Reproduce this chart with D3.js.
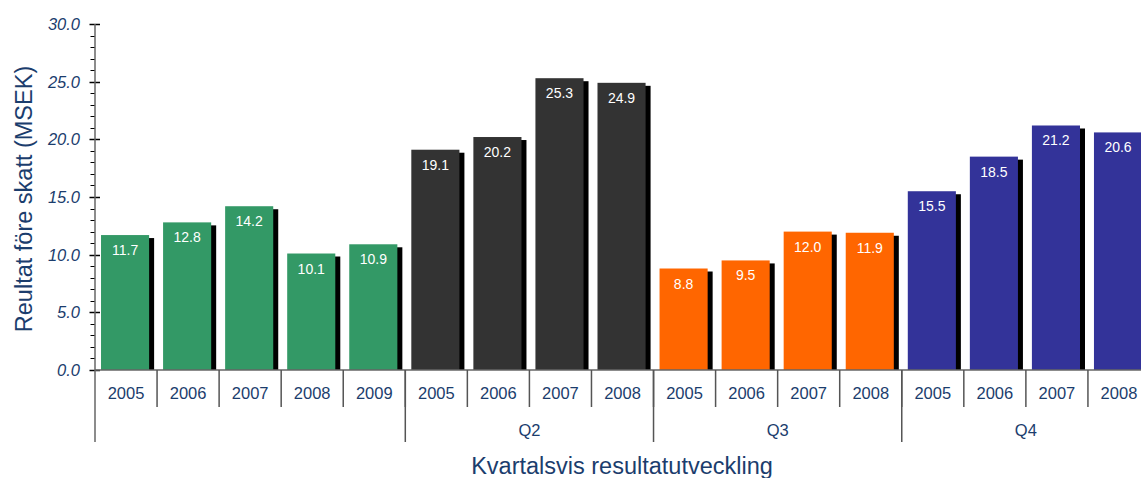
<!DOCTYPE html>
<html>
<head>
<meta charset="utf-8">
<script src="https://cdn.jsdelivr.net/npm/d3@7"></script>
<style>
  body { margin: 0; background: #fff; }
  svg { display: block; font-family: "Liberation Sans", Arial, sans-serif; }
</style>
</head>
<body>
<div id="chart"></div>
<script>
// quarter groups and their years
const quarters = ["", "Q2", "Q3", "Q4"];
const years = [
  ["2005", "2006", "2007", "2008", "2009"],
  ["2005", "2006", "2007", "2008"],
  ["2005", "2006", "2007", "2008"],
  ["2005", "2006", "2007", "2008"]
];
const values = [
  [11.7, 12.8, 14.2, 10.1, 10.9],
  [19.1, 20.2, 25.3, 24.9],
  [8.8, 9.5, 12.0, 11.9],
  [15.5, 18.5, 21.2, 20.6]
];
const colors = ["#339966", "#333333", "#FF6600", "#333399"];
const yTicks = [0, 5, 10, 15, 20, 25, 30];

const width = 1141, height = 478;
const textColor = "#1b3d6d";

// flatten into one row per bar
const bars = [];
values.forEach((vals, g) => {
  vals.forEach((v, j) => bars.push({ group: g, year: years[g][j], value: v }));
});

const svg = d3.select("#chart").append("svg")
  .attr("width", width).attr("height", height);

const x = d3.scaleBand()
  .domain(d3.range(bars.length))
  .range([95, 1150])
  .padding(0);

const y = d3.scaleLinear().domain([0, 30]).range([370, 24]);

const defs = svg.append("defs");
defs.append("clipPath").attr("id", "plot-clip")
  .append("rect").attr("x", 95).attr("y", 0).attr("width", 1100).attr("height", y(0));

// Bars with drop shadow
const barG = svg.append("g").attr("clip-path", "url(#plot-clip)");
const bw = x.bandwidth();
const barW = bw * 0.775;
const off = bw * 0.097;

barG.selectAll("rect.shadow").data(bars).join("rect")
  .attr("class", "shadow")
  .attr("x", (d, i) => x(i) + off + 5)
  .attr("y", d => y(d.value) + 3)
  .attr("width", barW)
  .attr("height", d => y(0) - y(d.value))
  .attr("fill", "#000");

barG.selectAll("rect.bar").data(bars).join("rect")
  .attr("class", "bar")
  .attr("x", (d, i) => x(i) + off)
  .attr("y", d => y(d.value))
  .attr("width", barW)
  .attr("height", d => y(0) - y(d.value))
  .attr("fill", d => colors[d.group]);

barG.selectAll("text.val").data(bars).join("text")
  .attr("class", "val")
  .attr("x", (d, i) => x(i) + off + barW / 2)
  .attr("y", d => y(d.value) + 20)
  .attr("text-anchor", "middle")
  .attr("fill", "#fff")
  .style("font-size", "14px")
  .text(d => d.value.toFixed(1));

// Y axis: minor ticks every 1, major every 5
const axisG = svg.append("g");
axisG.selectAll("line.minor").data(d3.range(0, 31)).join("line")
  .attr("x1", 90.5).attr("x2", 95)
  .attr("y1", d => Math.round(y(d)) + 0.5).attr("y2", d => Math.round(y(d)) + 0.5)
  .attr("stroke", "#000").attr("stroke-width", 1);
axisG.selectAll("line.major").data(yTicks).join("line")
  .attr("x1", 89.5).attr("x2", 100)
  .attr("y1", d => Math.round(y(d)) + 0.5).attr("y2", d => Math.round(y(d)) + 0.5)
  .attr("stroke", "#000").attr("stroke-width", 1.5);
axisG.append("line")
  .attr("x1", 95).attr("x2", 95).attr("y1", y(30)).attr("y2", 442)
  .attr("stroke", "#666").attr("stroke-width", 1.5);
axisG.append("line")
  .attr("x1", 95).attr("x2", 1150).attr("y1", y(0)).attr("y2", y(0))
  .attr("stroke", "#666").attr("stroke-width", 1.5);

axisG.selectAll("text.ytick").data(yTicks).join("text")
  .attr("x", 80)
  .attr("y", d => y(d) + 6)
  .attr("text-anchor", "end")
  .attr("fill", textColor)
  .style("font-size", "16.5px")
  .style("font-style", "italic")
  .text(d => d.toFixed(1));

// X axis: year separators and labels
const sepG = svg.append("g");
sepG.selectAll("line.ysep").data(d3.range(1, bars.length)).join("line")
  .attr("x1", i => x(i)).attr("x2", i => x(i))
  .attr("y1", y(0)).attr("y2", 407)
  .attr("stroke", "#555").attr("stroke-width", 1.5);

sepG.selectAll("text.year").data(bars).join("text")
  .attr("x", (d, i) => x(i) + bw / 2)
  .attr("y", 399)
  .attr("text-anchor", "middle")
  .attr("fill", textColor)
  .style("font-size", "16.5px")
  .text(d => d.year);

// quarter group separators and labels
let start = 0;
const groups = values.map((vals, g) => {
  const s = start;
  start += vals.length;
  return { label: quarters[g], s, e: start };
});
sepG.selectAll("line.gsep").data(groups.slice(1)).join("line")
  .attr("x1", d => x(d.s)).attr("x2", d => x(d.s))
  .attr("y1", y(0)).attr("y2", 442)
  .attr("stroke", "#555").attr("stroke-width", 1.5);

sepG.selectAll("text.q").data(groups).join("text")
  .attr("x", d => (x(d.s) + (d.e < bars.length ? x(d.e) : x(d.e - 1) + bw)) / 2)
  .attr("y", 436)
  .attr("text-anchor", "middle")
  .attr("fill", textColor)
  .style("font-size", "16.5px")
  .text(d => d.label);

// Axis titles
svg.append("text")
  .attr("x", 622).attr("y", 474)
  .attr("text-anchor", "middle")
  .attr("fill", textColor)
  .style("font-size", "23.5px")
  .text("Kvartalsvis resultatutveckling");

svg.append("text")
  .attr("transform", `translate(32, ${(y(0) + y(30)) / 2 + 2}) rotate(-90)`)
  .attr("text-anchor", "middle")
  .attr("fill", textColor)
  .style("font-size", "23.5px")
  .text("Reultat före skatt (MSEK)");
</script>
</body>
</html>
